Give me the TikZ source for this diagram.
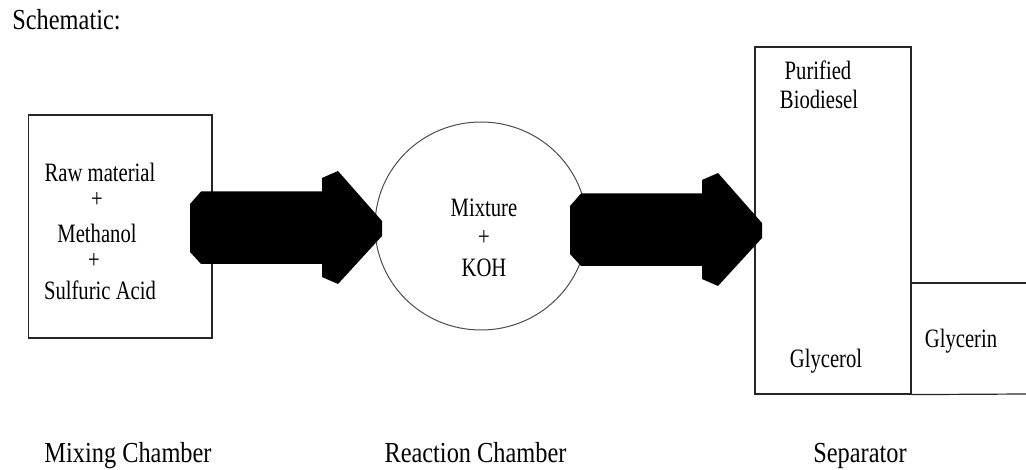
\documentclass[tikz,border=0pt]{standalone}
\usepackage{fontspec}
\setmainfont{Liberation Serif}
\newfontfamily\bigf[FakeStretch=0.84]{Liberation Serif}
\newfontfamily\smf[FakeStretch=0.78]{Liberation Serif}
\usetikzlibrary{shapes.geometric}
\tikzset{
  box/.style={draw=black!85, line width=1.2pt, inner sep=0pt},
  reactor/.style={draw=black!70, line width=1pt, ellipse, inner sep=0pt},
  big/.style={inner sep=0pt, anchor=base, font=\bigf\fontsize{29}{34}\selectfont},
  sm/.style={inner sep=0pt, anchor=base, font=\smf\fontsize{26.5}{31}\selectfont},
  fatarrow/.pic={
    \fill[black] (0,-24) -- (11,-36.5) -- (132,-36.5) -- (132,-50) -- (148,-57)
      -- (192,-7) -- (192,8) -- (148,56) -- (132,49) -- (132,36) -- (11,36) -- (0,24) -- cycle;
  }
}
\begin{document}
\begin{tikzpicture}[x=1pt,y=-1pt]
\useasboundingbox (0,0) rectangle (1026,470);

\node[big] (title) at (66.5,30) {Schematic:};

% Mixing chamber
\node[box, minimum width=183.5pt, minimum height=223pt] (mixbox) at (120.25,226.5) {};
\node[sm] (t1) at (100,182) {Raw material};
\node[sm] (t2) at (97,208) {+};
\node[sm] (t3) at (97,243) {Methanol};
\node[sm] (t4) at (94,269) {+};
\node[sm] (t5) at (100,300) {Sulfuric Acid};

% Reaction chamber
\node[reactor, minimum width=212pt, minimum height=208pt] (react) at (481,226) {};
\node[sm] (r1) at (484,217) {Mixture};
\node[sm] (r2) at (484,246) {+};
\node[sm] (r3) at (484,277) {KOH};

% Separator
\node[box, minimum width=156pt, minimum height=347pt] (sep) at (833,220.5) {};
\coordinate (gtop) at (1026,283);
\coordinate (gbot) at (1026,394);
\draw[draw=black!85, line width=1.2pt] (gtop) -- (sep.east |- gtop) -- (sep.south east);
\draw[draw=black!85, line width=1.2pt] (sep.south east) -- (gbot);
\node[sm] (s1) at (818,80) {Purified};
\node[sm] (s2) at (819,109) {Biodiesel};
\node[sm] (s3) at (826,368) {Glycerol};
\node[sm] (s4) at (961,348) {Glycerin};

% Fat arrows
\pic at (190,228) {fatarrow};
\pic at (570,230) {fatarrow};

% Bottom labels
\node[big] (l1) at (128,462) {Mixing Chamber};
\node[big] (l2) at (475.5,462) {Reaction Chamber};
\node[big] (l3) at (860,462) {Separator};
\end{tikzpicture}
\end{document}
